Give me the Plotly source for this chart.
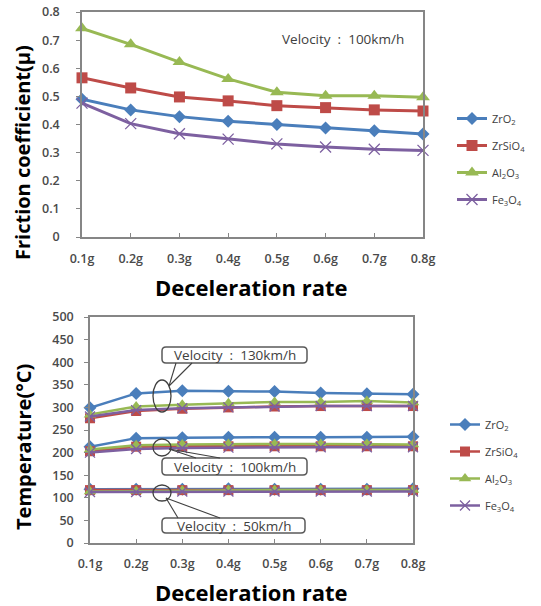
import plotly.graph_objects as go

OFF = 0  # page body margin is removed below
W, H = 541, 606

decel = ["0.1g", "0.2g", "0.3g", "0.4g", "0.5g", "0.6g", "0.7g", "0.8g"]
materials = ["ZrO<sub>2</sub>", "ZrSiO<sub>4</sub>", "Al<sub>2</sub>O<sub>3</sub>", "Fe<sub>3</sub>O<sub>4</sub>"]

friction_zro2 = [0.490, 0.452, 0.428, 0.412, 0.400, 0.388, 0.378, 0.366]
friction_zrsio4 = [0.566, 0.530, 0.498, 0.484, 0.467, 0.460, 0.452, 0.448]
friction_al2o3 = [0.742, 0.685, 0.622, 0.562, 0.515, 0.502, 0.502, 0.497]
friction_fe3o4 = [0.476, 0.403, 0.367, 0.348, 0.331, 0.320, 0.312, 0.308]

temp130_zro2 = [299, 331, 337, 336, 335, 332, 330, 329]
temp130_zrsio4 = [276, 292, 297, 300, 302, 303, 303, 303]
temp130_al2o3 = [284, 302, 306, 309, 312, 312, 314, 311]
temp130_fe3o4 = [280, 294, 298, 300, 302, 303, 303, 303]

temp100_zro2 = [213, 232, 233, 234, 234, 234, 234, 235]
temp100_zrsio4 = [203, 213, 214, 214, 214, 214, 214, 214]
temp100_al2o3 = [207, 216, 218, 219, 219, 219, 219, 218]
temp100_fe3o4 = [200, 208, 210, 211, 211, 212, 212, 212]

temp50_zro2 = [119, 119, 119, 120, 119, 119, 119, 120]
temp50_zrsio4 = [117, 117, 117, 117, 117, 117, 117, 117]
temp50_al2o3 = [114, 115, 116, 117, 117, 117, 117, 117]
temp50_fe3o4 = [113, 113, 114, 114, 114, 114, 114, 114]

friction_tick_vals = [0, 0.1, 0.2, 0.3, 0.4, 0.5, 0.6, 0.7, 0.8]
friction_tick_text = ["0", "0.1", "0.2", "0.3", "0.4", "0.5", "0.6", "0.7", "0.8"]
temp_tick_vals = [0, 50, 100, 150, 200, 250, 300, 350, 400, 450, 500]

colors = ["#4A7EBB", "#BE4B48", "#98B954", "#7D60A0"]
symbols = ["diamond", "square", "triangle-up", "x-thin"]


def px(x):
    return (x - OFF) / W


def py(y):
    return 1 - (y - OFF) / H


fig = go.Figure()

friction = [friction_zro2, friction_zrsio4, friction_al2o3, friction_fe3o4]
msize_top = [10, 11, 12, 11]
for i, name in enumerate(materials):
    fig.add_trace(go.Scatter(
        x=decel, y=friction[i], name=name, mode="lines+markers",
        line=dict(color=colors[i], width=3),
        marker=dict(symbol=symbols[i], size=msize_top[i], color=colors[i],
                    line=dict(color=colors[i], width=1.3 if i == 3 else 0)),
        cliponaxis=False, xaxis="x", yaxis="y",
        legend="legend", legendgroup="t%d" % i,
    ))

temps = [
    [temp130_zro2, temp100_zro2, temp50_zro2],
    [temp130_zrsio4, temp100_zrsio4, temp50_zrsio4],
    [temp130_al2o3, temp100_al2o3, temp50_al2o3],
    [temp130_fe3o4, temp100_fe3o4, temp50_fe3o4],
]
msize_bot = [10, 10, 11, 10]
for i, name in enumerate(materials):
    for k in range(3):
        fig.add_trace(go.Scatter(
            x=decel, y=temps[i][k], name=name, mode="lines+markers",
            line=dict(color=colors[i], width=2.5),
            marker=dict(symbol=symbols[i], size=msize_bot[i], color=colors[i],
                        line=dict(color=colors[i], width=1.3 if i == 3 else 0)),
            cliponaxis=False, xaxis="x2", yaxis="y2",
            legend="legend2", legendgroup="b%d" % i, showlegend=(k == 0),
        ))

tickfont = dict(family="Open Sans", size=12.5, color="#4a4a4a", weight=600)
axis_common = dict(showline=True, linecolor="#868686", linewidth=1.5, mirror=True,
                   showgrid=False, zeroline=False, tickfont=tickfont, automargin=False,
                   ticklabeloverflow="allow")

fig.update_layout(
    width=W, height=H,
    margin=dict(l=0, r=0, t=0, b=0, pad=0, autoexpand=False),
    paper_bgcolor="white", plot_bgcolor="white",
    xaxis=dict(domain=[px(82), px(423)], anchor="y", type="category",
               range=[0, 7], ticks="inside", ticklen=4, tickcolor="#868686",
               ticklabelstandoff=9, **axis_common),
    yaxis=dict(domain=[py(237), py(12)], anchor="x", range=[0, 0.8],
               tickvals=friction_tick_vals, ticktext=friction_tick_text,
               ticks="outside", ticklen=4, tickcolor="#868686",
               ticklabelstandoff=14, **axis_common),
    xaxis2=dict(domain=[px(90), px(413)], anchor="y2", type="category",
                range=[0, 7], ticks="inside", ticklen=4, tickcolor="#868686",
                ticklabelstandoff=8, **axis_common),
    yaxis2=dict(domain=[py(543), py(317)], anchor="x2", range=[0, 500],
                tickvals=temp_tick_vals, ticks="outside", ticklen=4,
                tickcolor="#868686", ticklabelstandoff=8, **axis_common),
    legend=dict(x=px(452), y=py(104), xanchor="left", yanchor="top",
                font=dict(family="Open Sans", size=11, color="#404040"),
                tracegroupgap=8, bgcolor="rgba(0,0,0,0)"),
    legend2=dict(x=px(445), y=py(410), xanchor="left", yanchor="top",
                 font=dict(family="Open Sans", size=11, color="#404040"),
                 tracegroupgap=8, bgcolor="rgba(0,0,0,0)"),
    showlegend=True,
)

ytitle_font = dict(family="Open Sans", size=20, color="black")
xtitle_font = dict(family="Open Sans", size=22, color="black")
label_font = dict(family="Open Sans", size=13.5, color="#404040")
vel = "Velocity\u00a0\u00a0:\u00a0\u00a0"
annotations = [
    dict(text="<b>Friction coefficient(μ)</b>", x=px(22), y=py(153), textangle=-90,
         xref="paper", yref="paper", showarrow=False, font=ytitle_font,
         xanchor="center", yanchor="middle"),
    dict(text="<b>Deceleration rate</b>", x=px(251), y=py(287),
         xref="paper", yref="paper", showarrow=False, font=xtitle_font,
         xanchor="center", yanchor="middle"),
    dict(text="<b>Temperature(°C)</b>", x=px(23), y=py(447), textangle=-90,
         xref="paper", yref="paper", showarrow=False, font=ytitle_font,
         xanchor="center", yanchor="middle"),
    dict(text="<b>Deceleration rate</b>", x=px(251), y=py(592),
         xref="paper", yref="paper", showarrow=False, font=xtitle_font,
         xanchor="center", yanchor="middle"),
    dict(text=vel + "100km/h", x=px(343), y=py(39),
         xref="paper", yref="paper", showarrow=False, font=label_font,
         xanchor="center", yanchor="middle"),
]

callouts = [
    ("130km/h", (162, 307, 347, 363), (153, 171, 380, 412), (169, 386), (176, 192, 363)),
    ("100km/h", (162, 307, 458, 475), (153, 171, 439, 456), (169, 449), (196, 220, 458)),
    ("50km/h", (162, 305, 518, 533), (153, 171, 485, 501), (166, 498), (178, 220, 518)),
]

shapes = []
r = 4
for label, box, ell, tip, base in callouts:
    x0, x1, y0, y1 = box
    path = (
        f"M {px(x0 + r)} {py(y0)} L {px(x1 - r)} {py(y0)} "
        f"Q {px(x1)} {py(y0)} {px(x1)} {py(y0 + r)} "
        f"L {px(x1)} {py(y1 - r)} Q {px(x1)} {py(y1)} {px(x1 - r)} {py(y1)} "
        f"L {px(x0 + r)} {py(y1)} Q {px(x0)} {py(y1)} {px(x0)} {py(y1 - r)} "
        f"L {px(x0)} {py(y0 + r)} Q {px(x0)} {py(y0)} {px(x0 + r)} {py(y0)} Z"
    )
    shapes.append(dict(type="path", path=path, xref="paper", yref="paper",
                       line=dict(color="#595959", width=1.5), fillcolor="white"))
    ex0, ex1, ey0, ey1 = ell
    shapes.append(dict(type="circle", xref="paper", yref="paper",
                       x0=px(ex0), x1=px(ex1), y0=py(ey1), y1=py(ey0),
                       line=dict(color="#404040", width=1.3)))
    bx0, bx1, by = base
    for bx in (bx0, bx1):
        shapes.append(dict(type="line", xref="paper", yref="paper",
                           x0=px(tip[0]), y0=py(tip[1]), x1=px(bx), y1=py(by),
                           line=dict(color="#404040", width=1.1)))
    annotations.append(dict(text=vel + label, x=px((x0 + x1) / 2), y=py((y0 + y1) / 2),
                            xref="paper", yref="paper", showarrow=False, font=label_font,
                            xanchor="center", yanchor="middle"))

fig.update_layout(annotations=annotations, shapes=shapes)

fig.write_html("out.html", config={"displayModeBar": False},
               post_script="document.body.style.margin='0';document.body.style.overflow='hidden';")
